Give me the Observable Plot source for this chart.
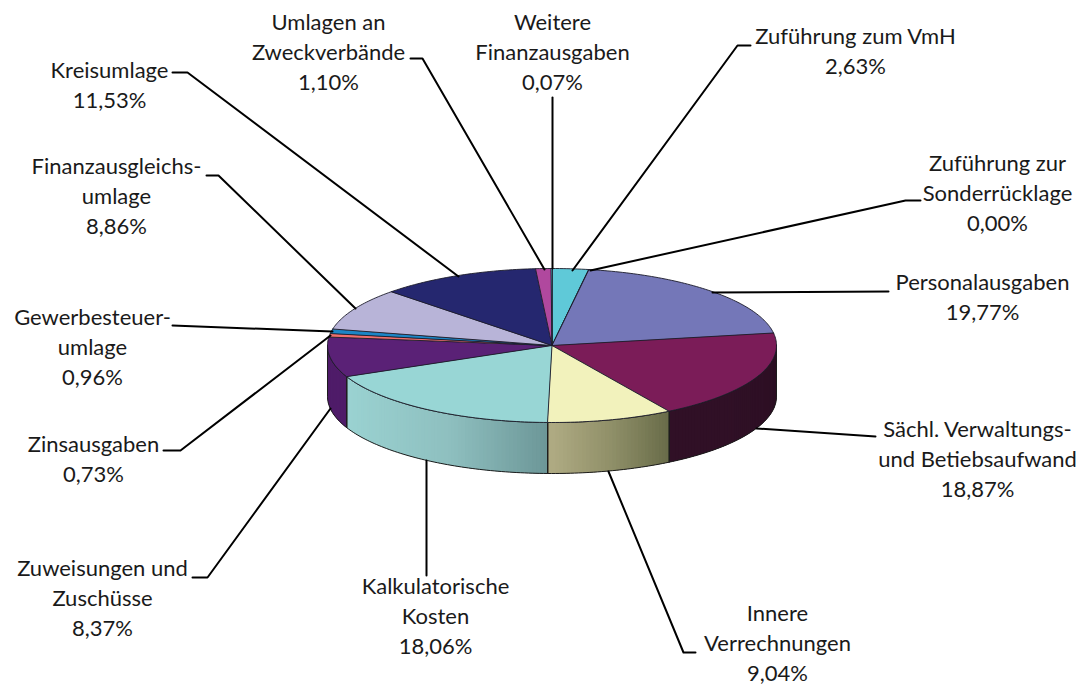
<!DOCTYPE html>
<html lang="de">
<head>
<meta charset="utf-8">
<title>Ausgaben</title>
<script src="https://cdn.jsdelivr.net/npm/d3@7"></script>
<script src="https://cdn.jsdelivr.net/npm/@observablehq/plot@0.6"></script>
<style>html,body{margin:0;padding:0;background:#fff}svg{display:block}</style>
</head>
<body>
<div id="chart"></div>
<script>
// --- data, clockwise from the top of the pie
const categories = ["Zuführung zum VmH","Zuführung zur\nSonderrücklage","Personalausgaben","Sächl. Verwaltungs-\nund Betiebsaufwand","Innere\nVerrechnungen","Kalkulatorische\nKosten","Zuweisungen und\nZuschüsse","Zinsausgaben","Gewerbesteuer-\numlage","Finanzausgleichs-\numlage","Kreisumlage","Umlagen an\nZweckverbände","Weitere\nFinanzausgaben"];
const values = [2.63,0,19.77,18.87,9.04,18.06,8.37,0.73,0.96,8.86,11.53,1.10,0.07];

// --- styles
const sliceColors = ["#5fc9d8","#5fc9d8","#7477b8","#7b1c58","#f2f2bc","#98d6d5","#5a2176","#f0706c","#1b86c6","#b8b4d8","#25276f","#b0489e","#5fc9d8"];
const sideLeft  = ["#000","#000","#000","#301026","#afab83","#9ad2d1","#4f1c69","#000","#000","#000","#000","#000","#000"];
const sideMid   = ["#000","#000","#000","#301026","#8f8f68","#8ebfbf","#4f1c69","#000","#000","#000","#000","#000","#000"];
const sideRight = ["#000","#000","#000","#2d0f24","#666a47","#6b9596","#4f1c69","#000","#000","#000","#000","#000","#000"];

// --- layout, in page pixels: label block centres
const labelX = [855,997,982,977,777,435,102,93,92,116,109,328,552];
const labelY = [49,191,295,457,641,614,596,457,345,194,83,50,50];
// leader lines, in page pixels
const leaders = [
  [[750,45],[737,45],[572,270]],
  [[920,200],[905,200],[590,270]],
  [[888,291],[712,292]],
  [[875,436],[756,428]],
  [[695,652],[683,652],[608,471]],
  [[426,575],[426,460]],
  [[192,577],[207,577],[330,408]],
  [[163,450],[180,450],[330,335]],
  [[172,325],[332,331]],
  [[206,175],[218,175],[355,308]],
  [[172,72],[187,72],[458,276]],
  [[410,58],[422,58],[544,269]],
  [[552,97],[552,268]]
];

// pie frame on the page
const left = 327, right = 776, top_ = 268, bottom = 422, depthPx = 51;
const cx = (left + right) / 2, cy = (top_ + bottom) / 2, rx = (right - left) / 2, ry = (bottom - top_) / 2;
const ux = px => (px - cx) / rx, uy = py => (cy - py) / ry;
const depth = depthPx / ry;

const total = d3.sum(values);
const cum = d3.cumsum(values);
const angle = i => (i < 0 ? 0 : cum[i] / total * 2 * Math.PI);
const stepA = Math.PI / 180;
const arcAngles = (a0, a1) => {
  const n = Math.max(1, Math.ceil((a1 - a0) / stepA));
  return d3.range(n + 1).map(k => a0 + (a1 - a0) * k / n);
};

const topRows = [], sideRows = [], sideBase = [];
values.forEach((v, i) => {
  const a0 = angle(i - 1), a1 = angle(i);
  topRows.push({id: i, x: 0, y: 0, fill: sliceColors[i]});
  arcAngles(a0, a1).forEach(a => topRows.push({id: i, x: Math.sin(a), y: Math.cos(a), fill: sliceColors[i]}));

  const s0 = Math.max(a0, Math.PI / 2), s1 = Math.min(a1, 3 * Math.PI / 2);
  if (s1 <= s0) return;
  const arc = arcAngles(s0, s1);
  const xs = arc.map(Math.sin), xMin = d3.min(xs), xMax = d3.max(xs);
  const ramp = d3.scaleLinear().domain([0, .5, 1]).range([sideLeft[i], sideMid[i], sideRight[i]]);
  // each strip overlaps the next one, so that no seams show
  d3.pairs(arc).forEach(([p, q], k) => {
    const t = ((Math.sin(p) + Math.sin(q)) / 2 - xMin) / (xMax - xMin);
    const fill = d3.color(ramp(t)).formatHex(), id = `${i}-${k}`;
    const p2 = Math.max(s0, p - stepA), q2 = Math.min(s1, q);
    for (const [a, d] of [[p2, 0], [q2, 0], [q2, depth], [p2, depth]])
      sideRows.push({id, x: Math.sin(a), y: Math.cos(a) - d, fill});
  });
  const base = d3.color(ramp(.5)).formatHex();
  sideBase.push(...arc.map(a => ({id: i, x: Math.sin(a), y: Math.cos(a), fill: base})),
                ...arc.slice().reverse().map(a => ({id: i, x: Math.sin(a), y: Math.cos(a) - depth, fill: base})));
});

const leaderRows = leaders.flatMap((pts, i) => pts.map(([x, y]) => ({id: i, x: ux(x), y: uy(y)})));
const labels = categories.map((c, i) => ({
  text: `${c}\n${values[i].toFixed(2).replace(".", ",")}%`,
  x: ux(labelX[i]), y: uy(labelY[i])
}));

const chart = Plot.plot({
  width: 1082, height: 686,
  margin: 0,
  x: {domain: [-1, 1], range: [left, right], axis: null},
  y: {domain: [-1, 1], range: [bottom, top_], axis: null},
  color: {type: "identity"},
  style: {background: "#fff"},
  marks: [
    Plot.line(sideBase, {x: "x", y: "y", z: "id", fill: "fill", curve: "linear-closed", stroke: "none"}),
    Plot.line(sideRows, {x: "x", y: "y", z: "id", fill: "fill", stroke: "none", curve: "linear-closed"}),
    Plot.line(sideBase, {x: "x", y: "y", z: "id", fill: "none", stroke: "#1c1c1c", strokeWidth: 1, curve: "linear-closed"}),
    Plot.line(topRows, {x: "x", y: "y", z: "id", fill: "fill", stroke: "#1c1c2a", strokeWidth: 0.9, curve: "linear-closed"}),
    Plot.line(leaderRows, {x: "x", y: "y", z: "id", stroke: "#000", strokeWidth: 2, curve: "linear"}),
    Plot.text(labels, {x: "x", y: "y", text: "text", textAnchor: "middle", lineAnchor: "middle", lineHeight: 30 / 22, fontSize: 22, fontFamily: "Lato", fill: "#1a1a1a"})
  ]
});
document.getElementById("chart").appendChild(chart);
</script>
</body>
</html>
